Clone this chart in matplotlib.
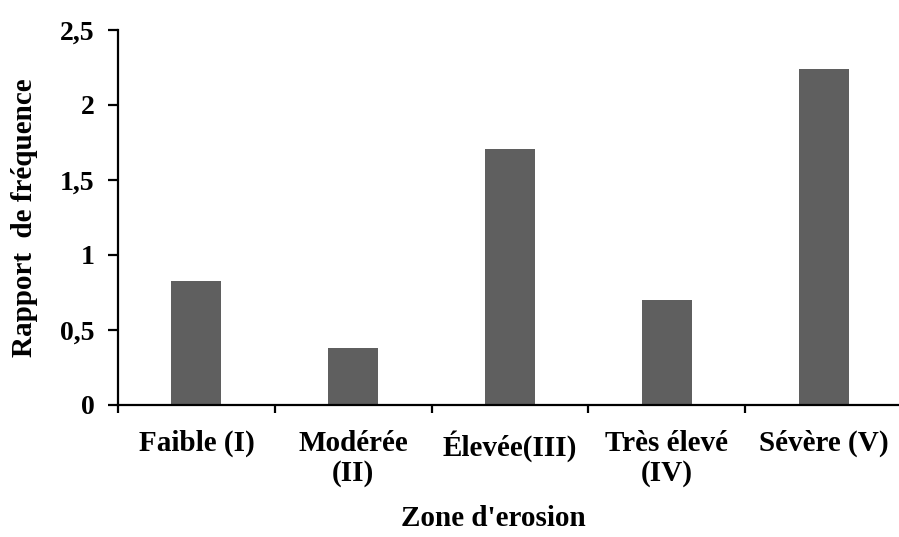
import numpy as np
import matplotlib
matplotlib.use("Agg")
import matplotlib.pyplot as plt

# categories and values
zones = ["Faible (I)", "Modérée\n(II)", "Élevée(III)", "Très élevé\n(IV)", "Sévère (V)"]
rapport = [0.83, 0.38, 1.71, 0.70, 2.24]
yticks = [0, 0.5, 1, 1.5, 2, 2.5]
ytick_labels = ["0", "0,5", "1", "1,5", "2", "2,5"]

plt.rcParams['font.family'] = ['Liberation Serif', 'DejaVu Serif']
plt.rcParams['font.weight'] = 'bold'

fig = plt.figure(figsize=(8.99, 5.37), dpi=100)
ax = fig.add_axes([118 / 899, 1 - 405 / 537, 784 / 899, 375 / 537])

x = np.arange(len(zones))
ax.bar(x, rapport, width=0.32, color='#5f5f5f')

ax.set_xlim(-0.5, len(zones) - 0.5)
ax.set_ylim(0, 2.5)

ax.set_yticks(yticks)
ax.set_yticklabels(ytick_labels, fontsize=20, fontweight='bold')

# category boundaries get the tick marks, labels sit in between
ax.set_xticks(np.arange(-0.5, len(zones), 1.0))
ax.set_xticklabels([])
ax.set_xticks(x, minor=True)
ax.set_xticklabels(zones, minor=True, fontsize=21, fontweight='bold', linespacing=1.15)
ax.tick_params(axis='x', which='minor', length=0, pad=18)
ax.tick_params(axis='x', which='major', direction='out', length=6, width=1.6)
ax.tick_params(axis='y', direction='out', length=7, width=1.6, pad=10)

for s in ['top', 'right']:
    ax.spines[s].set_visible(False)
for s in ['left', 'bottom']:
    ax.spines[s].set_linewidth(1.6)

ax.set_ylabel("Rapport  de fréquence", fontsize=21, fontweight='bold')
ax.yaxis.set_label_coords((24 - 118) / 784, 0.5)
ax.yaxis.label.set_verticalalignment('center')
ax.set_xlabel("Zone d'erosion", fontsize=21, fontweight='bold')
ax.xaxis.set_label_coords((493 - 118) / 784, -(505 - 405) / 375)

fig.savefig("out.png", dpi=100)
